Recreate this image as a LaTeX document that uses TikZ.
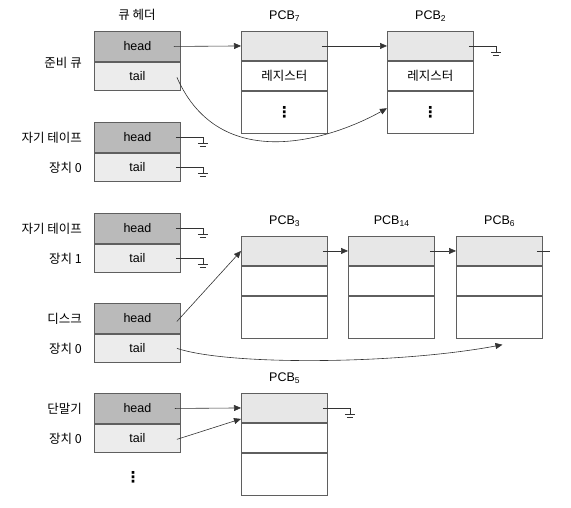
\documentclass[tikz,border=0pt]{standalone}
\usepackage{fontspec}
\setmainfont{Liberation Sans}
\newfontfamily\kr{Noto Sans CJK KR}
\newfontfamily\sym{DejaVu Sans}
\usepackage{tikz}
\usetikzlibrary{calc,arrows.meta}
\definecolor{headgray}{RGB}{186,186,186}
\definecolor{tailgray}{RGB}{236,236,236}
\definecolor{topgray}{RGB}{231,231,231}
\definecolor{edgegray}{RGB}{95,95,95}
\tikzset{
  cell/.style={draw=edgegray, line width=0.9pt, inner sep=0pt,
    minimum width=86pt, font=\fontsize{12.5}{13}\selectfont},
  headcell/.style={cell, fill=headgray, minimum height=30pt},
  tailcell/.style={cell, fill=tailgray, minimum height=28pt},
  pcbtop/.style={cell, fill=topgray, minimum height=29pt},
  pcbmid/.style={cell, fill=white, minimum height=29pt},
  pcbbot/.style={cell, fill=white, minimum height=42pt},
  lbl/.style={font=\kr\fontsize{12.5}{13}\selectfont, inner sep=0pt},
  dts/.style={font=\sym\bfseries\fontsize{15}{15}\selectfont, inner sep=0pt},
  wire/.style={draw=black!80, line width=0.6pt},
  ptr/.style={wire, -{Triangle[length=7pt,width=6pt]}}
}
\newcommand\pcbsub[1]{\raisebox{-2.5pt}{\fontsize{8.5}{9}\selectfont #1}}
% queue header: name, top y, first label, second label
\newcommand\queuehdr[4]{
  \node[headcell, anchor=north west] (#1h) at (94,#2) {head};
  \node[tailcell, anchor=north] (#1t) at (#1h.south) {tail};
  \node[lbl, anchor=east] (#1x) at ($(#1h.west)+(-12,0)$) {#3};
  \node[lbl, anchor=east] (#1y) at ($(#1t.west)+(-12,0)$) {#4};
}
% pcb: name, x, top y, number, middle text
\newcommand\pcb[5]{
  \node[pcbtop, anchor=north west] (#1a) at (#2,#3) {};
  \node[pcbmid, anchor=north] (#1b) at (#1a.south) {\kr #5};
  \node[pcbbot, anchor=north] (#1c) at (#1b.south) {};
  \node[font=\fontsize{12.5}{13}\selectfont, inner sep=0pt] (#1l) at ($(#1a.north)+(0,-15)$) {PCB\pcbsub{#4}};
}
% null pointer to ground
\newcommand\groundfrom[1]{
  \coordinate (g) at ($(#1.east)+(22,0)$);
  \draw[wire] ($(#1.east)+(-5,0)$) -- (g) -- ++(0,6);
  \draw[wire] ($(g)+(-5,6)$) -- ($(g)+(5,6)$);
  \draw[wire] ($(g)+(-3,9)$) -- ($(g)+(3,9)$);
}

\begin{document}
\begin{tikzpicture}[x=1pt,y=-1pt]
  \useasboundingbox (0,0) rectangle (571,507);

  \node[lbl] (hdr) at (137,15) {큐 헤더};

  \queuehdr{rq}{31}{}{}
  \queuehdr{tz}{122}{자기 테이프}{장치 0}
  \queuehdr{to}{213}{자기 테이프}{장치 1}
  \queuehdr{dk}{303}{디스크}{장치 0}
  \queuehdr{tm}{393}{단말기}{장치 0}
  \node[lbl, anchor=east] (rqlbl) at ($(rqh.south west)+(-12,1)$) {준비 큐};
  \node[dts] (more) at (133,477) {⋮};

  \pcb{p7}{241}{31}{7}{레지스터}
  \pcb{p2}{387}{31}{2}{레지스터}
  \node[dts] (p7dots) at (p7c) {⋮};
  \node[dts] (p2dots) at (p2c) {⋮};
  \pcb{p3}{241}{236}{3}{}
  \pcb{p14}{348}{236}{14}{}
  \pcb{p6}{456}{236}{6}{}
  \pcb{p5}{241}{393}{5}{}

  % ready queue
  \draw[ptr] ($(rqh.east)+(-7,0)$) -- (p7a.west);
  \draw[ptr] ($(p7a.east)+(-6,0)$) -- (p2a.west);
  \groundfrom{p2a}
  \draw[ptr] ($(rqt.east)+(-4,1)$) .. controls (220,175) and (330,140) .. ($(p2c.west)+(0,-4)$);

  % tapes
  \groundfrom{tzh}
  \groundfrom{tzt}
  \groundfrom{toh}
  \groundfrom{tot}

  % disk
  \draw[ptr] ($(dkh.east)+(-4,3)$) -- (p3a.west);
  \draw[ptr] ($(p3a.east)+(-5,0)$) -- (p14a.west);
  \draw[ptr] ($(p14a.east)+(-5,0)$) -- (p6a.west);
  \coordinate (p6end) at ($(p6a.east)+(7,0)$);
  \draw[wire] ($(p6a.east)+(-6,0)$) -- (p6end);
  \draw[ptr] ($(dkt.east)+(-4,0)$) .. controls (230,366) and (400,364) .. ($(p6c.south)+(3,6)$);

  % terminal
  \draw[ptr] ($(tmh.east)+(-6,0)$) -- (p5a.west);
  \draw[ptr] ($(tmt.east)+(-4,1)$) -- ($(p5a.south west)+(0,-4)$);
  \groundfrom{p5a}
\end{tikzpicture}
\end{document}
